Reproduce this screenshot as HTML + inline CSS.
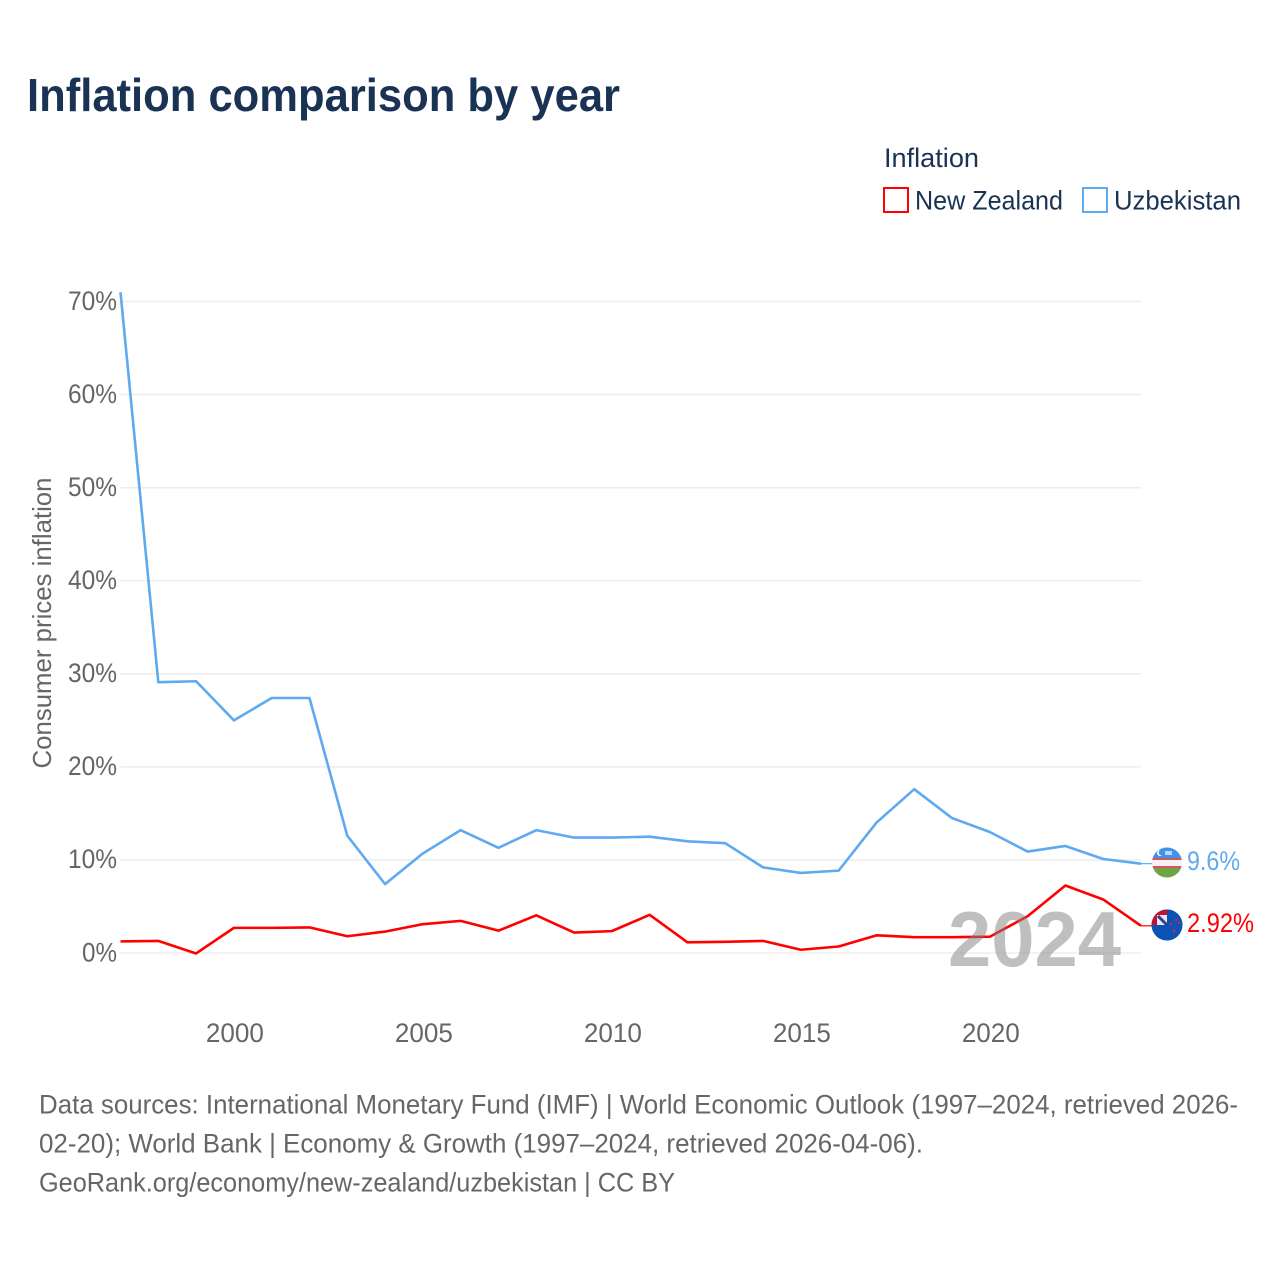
<!DOCTYPE html>
<html lang="en">
<head>
<meta charset="utf-8">
<title>Inflation comparison by year</title>
<style>
html,body{margin:0;padding:0;background:#fff;}
svg{display:block;}
text{font-family:"Liberation Sans",sans-serif;}
</style>
</head>
<body>
<svg id="chart" xmlns="http://www.w3.org/2000/svg" width="1280" height="1280" viewBox="0 0 1280 1280">
  <rect width="1280" height="1280" fill="#fff"/>
  <text x="27" y="111" font-size="46" font-weight="700" fill="#1a3354" textLength="593" lengthAdjust="spacingAndGlyphs">Inflation comparison by year</text>

  <text x="884" y="167" font-size="27" fill="#1a3354" textLength="95" lengthAdjust="spacingAndGlyphs">Inflation</text>
  <rect x="884" y="188" width="24" height="24" fill="#fff" stroke="#ff0000" stroke-width="2"/>
  <text x="915" y="209.500" font-size="27" fill="#1a3354" textLength="148" lengthAdjust="spacingAndGlyphs">New Zealand</text>
  <rect x="1083" y="188" width="24" height="24" fill="#fff" stroke="#5ea9f0" stroke-width="2"/>
  <text x="1114" y="209.500" font-size="27" fill="#1a3354" textLength="127" lengthAdjust="spacingAndGlyphs">Uzbekistan</text>

  <g id="grid"></g>
  <g id="yticks"></g>
  <g id="xticks"></g>
  <text transform="translate(51,623) rotate(-90)" text-anchor="middle" font-size="26" fill="#666" textLength="291" lengthAdjust="spacingAndGlyphs">Consumer prices inflation</text>

  <g id="series"></g>

  <text x="948" y="966" font-size="78" font-weight="700" fill="#808080" fill-opacity="0.5" textLength="173" lengthAdjust="spacingAndGlyphs">2024</text>

  <defs>
    <clipPath id="uzClip"><circle cx="1167" cy="862.500" r="15"/></clipPath>
    <clipPath id="nzClip"><circle cx="1167" cy="925" r="15.500"/></clipPath>
  </defs>
  <g id="flag-uz" clip-path="url(#uzClip)">
    <rect x="1152" y="847" width="30" height="11" fill="#3f93ea"/>
    <rect x="1152" y="858" width="30" height="2" fill="#d9525f"/>
    <rect x="1152" y="860" width="30" height="6" fill="#f3f3f3"/>
    <rect x="1152" y="866" width="30" height="2" fill="#d9525f"/>
    <rect x="1152" y="868" width="30" height="10" fill="#6da544"/>
    <circle cx="1160" cy="853" r="3" fill="#fff"/>
    <circle cx="1161.500" cy="852.500" r="2.800" fill="#3f93ea"/>
    <rect x="1165" y="851" width="7" height="4" fill="#bcd9f7"/>
  </g>
  <g id="flag-nz" clip-path="url(#nzClip)">
    <rect x="1151" y="909" width="32" height="32" fill="#0a52b4"/>
    <path d="M1151 909 H1167 V925 H1151 Z" fill="#c4112f"/>
    <rect x="1157" y="915" width="10" height="10" fill="#e7e7ef"/>
    <path d="M1158 916 L1167 925" stroke="#2f3f8f" stroke-width="3"/>
    <path d="M1167 909 H1183 V925 H1167 Z" fill="#0a52b4"/>
    <circle cx="1176" cy="920" r="1.200" fill="#e8213b"/>
    <circle cx="1171" cy="924" r="1.200" fill="#e8213b"/>
    <circle cx="1179" cy="923" r="1.200" fill="#e8213b"/>
    <circle cx="1174" cy="931" r="1.400" fill="#e8213b"/>
  </g>
  <g id="endlabels"></g>

  <g font-size="27" fill="#666">
    <text x="39" y="1113.500" textLength="1199" lengthAdjust="spacingAndGlyphs">Data sources: International Monetary Fund (IMF) | World Economic Outlook (1997–2024, retrieved 2026-</text>
    <text x="39" y="1152.500" textLength="884" lengthAdjust="spacingAndGlyphs">02-20); World Bank | Economy &amp; Growth (1997–2024, retrieved 2026-04-06).</text>
    <text x="39" y="1191.500" textLength="636" lengthAdjust="spacingAndGlyphs">GeoRank.org/economy/new-zealand/uzbekistan | CC BY</text>
  </g>
</svg>
<script>
const years = [1997,1998,1999,2000,2001,2002,2003,2004,2005,2006,2007,2008,2009,2010,2011,2012,2013,2014,2015,2016,2017,2018,2019,2020,2021,2022,2023,2024];
const newZealand = [1.25,1.3,-0.05,2.7,2.7,2.75,1.8,2.3,3.1,3.45,2.4,4.05,2.2,2.35,4.1,1.15,1.2,1.3,0.35,0.7,1.9,1.7,1.7,1.75,3.95,7.25,5.75,2.92];
const uzbekistan = [71.0,29.1,29.2,25.0,27.4,27.4,12.6,7.4,10.7,13.2,11.3,13.2,12.4,12.4,12.5,12.0,11.8,9.2,8.6,8.85,14.0,17.6,14.5,13.0,10.9,11.5,10.1,9.6];
const yTickValues = [0,10,20,30,40,50,60,70];
const yTickLabels = ["0%","10%","20%","30%","40%","50%","60%","70%"];
const xTickValues = [2000,2005,2010,2015,2020];
const xTickLabels = ["2000","2005","2010","2015","2020"];
const nzEndLabel = "2.92%";
const uzEndLabel = "9.6%";

const NS = "http://www.w3.org/2000/svg";
const xScale = function (yr) { return 120.5 + (yr - 1997) * (1141 - 120.5) / 27; };
const yScale = function (v) { return 953 - v * 9.307; };

const grid = document.getElementById("grid");
const yticks = document.getElementById("yticks");
const xticks = document.getElementById("xticks");
const seriesGroup = document.getElementById("series");
const endLabels = document.getElementById("endlabels");

yTickValues.forEach(function (v, i) {
  const line = document.createElementNS(NS, "line");
  
  
  line.setAttribute("x1", 120.5);
  line.setAttribute("x2", 1141);
  line.setAttribute("y1", yScale(v));
  line.setAttribute("y2", yScale(v));
  line.setAttribute("stroke", "#eeeeee");
  line.setAttribute("stroke-width", "1.6");
  grid.appendChild(line);

  const t = document.createElementNS(NS, "text");
  
  
  t.setAttribute("x", 117);
  t.setAttribute("y", yScale(v) + 8.3);
  t.setAttribute("text-anchor", "end");
  t.setAttribute("font-size", "26.5");
  t.setAttribute("fill", "#666");
  t.setAttribute("textLength", yTickLabels[i].length === 2 ? 35 : 49);
  t.setAttribute("lengthAdjust", "spacingAndGlyphs");
  t.textContent = yTickLabels[i];
  yticks.appendChild(t);
});

xTickValues.forEach(function (yr, i) {
  const t = document.createElementNS(NS, "text");
  
  
  t.setAttribute("x", xScale(yr) + 1);
  t.setAttribute("y", 1042);
  t.setAttribute("text-anchor", "middle");
  t.setAttribute("font-size", "26.5");
  t.setAttribute("fill", "#666");
  t.setAttribute("textLength", 58);
  t.setAttribute("lengthAdjust", "spacingAndGlyphs");
  t.textContent = xTickLabels[i];
  xticks.appendChild(t);
});

function pathFor(values) {
  return values.map(function (v, i) {
    return (i ? "L" : "M") + xScale(years[i]).toFixed(2) + " " + yScale(v).toFixed(2);
  }).join(" ");
}

const uzLine = document.createElementNS(NS, "path");


uzLine.setAttribute("d", pathFor(uzbekistan));
uzLine.setAttribute("fill", "none");
uzLine.setAttribute("stroke", "#5ea9f0");
uzLine.setAttribute("stroke-width", "2.6");
uzLine.setAttribute("stroke-linejoin", "round");
seriesGroup.appendChild(uzLine);

const nzLine = document.createElementNS(NS, "path");


nzLine.setAttribute("d", pathFor(newZealand));
nzLine.setAttribute("fill", "none");
nzLine.setAttribute("stroke", "#ff0000");
nzLine.setAttribute("stroke-width", "2.6");
nzLine.setAttribute("stroke-linejoin", "round");
seriesGroup.appendChild(nzLine);

const lastX = xScale(years[years.length - 1]);
const uzLastY = yScale(uzbekistan[uzbekistan.length - 1]);
const nzLastY = yScale(newZealand[newZealand.length - 1]);

const uzConnector = document.createElementNS(NS, "line");


uzConnector.setAttribute("x1", lastX);
uzConnector.setAttribute("x2", lastX + 12);
uzConnector.setAttribute("y1", uzLastY);
uzConnector.setAttribute("y2", uzLastY);
uzConnector.setAttribute("stroke", "#5ea9f0");
uzConnector.setAttribute("stroke-width", "1.2");
seriesGroup.appendChild(uzConnector);

const nzConnector = document.createElementNS(NS, "line");


nzConnector.setAttribute("x1", lastX);
nzConnector.setAttribute("x2", lastX + 12);
nzConnector.setAttribute("y1", nzLastY);
nzConnector.setAttribute("y2", nzLastY);
nzConnector.setAttribute("stroke", "#ff0000");
nzConnector.setAttribute("stroke-width", "1.2");
seriesGroup.appendChild(nzConnector);

const uzLabel = document.createElementNS(NS, "text");


uzLabel.setAttribute("x", 1187);
uzLabel.setAttribute("y", uzLastY + 6.4);
uzLabel.setAttribute("font-size", "26.5");
uzLabel.setAttribute("fill", "#5ea9f0");
uzLabel.setAttribute("textLength", 53);
uzLabel.setAttribute("lengthAdjust", "spacingAndGlyphs");
uzLabel.textContent = uzEndLabel;
endLabels.appendChild(uzLabel);

const nzLabel = document.createElementNS(NS, "text");


nzLabel.setAttribute("x", 1187);
nzLabel.setAttribute("y", nzLastY + 6);
nzLabel.setAttribute("font-size", "26.5");
nzLabel.setAttribute("fill", "#ff0000");
nzLabel.setAttribute("textLength", 67);
nzLabel.setAttribute("lengthAdjust", "spacingAndGlyphs");
nzLabel.textContent = nzEndLabel;
endLabels.appendChild(nzLabel);
</script>
</body>
</html>
